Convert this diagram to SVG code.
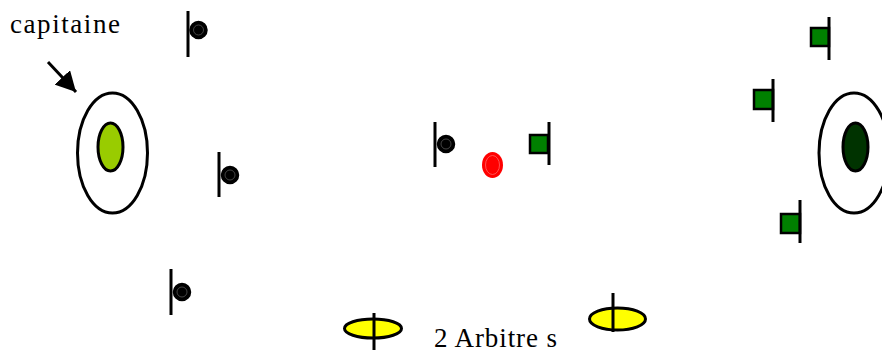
<svg xmlns="http://www.w3.org/2000/svg" width="882" height="352" viewBox="0 0 882 352">
<defs>
<style>
.lbl{font-family:"Liberation Serif","Times New Roman",serif;font-size:27px;fill:#000}
.bar{stroke:#000;stroke-width:3}
.ball{fill:#000;stroke:#000;stroke-width:1.5}
.ring{fill:none;stroke:#555;stroke-width:0.8}
.sq{fill:#008000;stroke:#000;stroke-width:2.5}
.ol{stroke:#000;stroke-width:3}
</style>
<marker id="ah" viewBox="0 0 20 21" refX="20" refY="10.5" markerWidth="20" markerHeight="21" orient="auto" markerUnits="userSpaceOnUse">
<path d="M0,0 L20,10.5 L0,21 z" fill="#000"/>
</marker>
</defs>
<rect width="882" height="352" fill="#fff"/>
<g id="label-capitaine"><text class="lbl" x="10" y="33" textLength="110" lengthAdjust="spacing">capitaine</text></g>
<g id="connectors">
<line x1="48" y1="62" x2="76" y2="92" stroke="#000" stroke-width="3" marker-end="url(#ah)"/>
</g>
<g id="goal-left">
<ellipse class="ol" cx="112.5" cy="153" rx="35" ry="60" fill="#fff"/>
<ellipse class="ol" cx="110.5" cy="147" rx="12.5" ry="24" fill="#99cc00"/>
</g>
<g id="goal-right">
<ellipse class="ol" cx="854" cy="153" rx="35" ry="60" fill="#fff"/>
<ellipse class="ol" cx="855.5" cy="147" rx="12.5" ry="24" fill="#003300"/>
</g>
<g id="black-1"><line class="bar" x1="188" y1="11" x2="188" y2="57"/><circle class="ball" cx="198.5" cy="30" r="8.5"/><circle class="ring" cx="198.5" cy="30" r="5"/></g>
<g id="black-2"><line class="bar" x1="219" y1="152" x2="219" y2="197"/><circle class="ball" cx="230" cy="175" r="8.5"/><circle class="ring" cx="230" cy="175" r="5"/></g>
<g id="black-3"><line class="bar" x1="171" y1="269" x2="171" y2="315"/><circle class="ball" cx="182" cy="292" r="8.5"/><circle class="ring" cx="182" cy="292" r="5"/></g>
<g id="black-4"><line class="bar" x1="435" y1="122" x2="435" y2="167"/><circle class="ball" cx="446" cy="144" r="8.5"/><circle class="ring" cx="446" cy="144" r="5"/></g>
<g id="ball-red"><ellipse cx="492.5" cy="165" rx="10.5" ry="13" fill="#ff0000"/><ellipse cx="492.5" cy="165" rx="7" ry="9.5" fill="none" stroke="#ff6666" stroke-width="0.8"/></g>
<g id="green-1"><rect class="sq" x="530" y="135" width="18" height="18"/><line class="bar" x1="549" y1="122" x2="549" y2="165"/></g>
<g id="green-2"><rect class="sq" x="811" y="28" width="18" height="18"/><line class="bar" x1="829" y1="17" x2="829" y2="60"/></g>
<g id="green-3"><rect class="sq" x="754" y="90" width="19" height="19"/><line class="bar" x1="773" y1="79" x2="773" y2="122"/></g>
<g id="green-4"><rect class="sq" x="781" y="214" width="19" height="19"/><line class="bar" x1="800" y1="200" x2="800" y2="243"/></g>
<g id="referee-1"><ellipse class="ol" cx="373" cy="328.5" rx="28.5" ry="9.5" fill="#ffff00"/><line class="bar" x1="374" y1="313" x2="374" y2="350"/></g>
<g id="referee-2"><ellipse class="ol" cx="617.5" cy="319" rx="28" ry="11" fill="#ffff00"/><line class="bar" x1="613" y1="293" x2="613" y2="332"/></g>
<g id="label-arbitres"><text class="lbl" x="434" y="347" textLength="123" lengthAdjust="spacing">2 Arbitre s</text></g>
</svg>
